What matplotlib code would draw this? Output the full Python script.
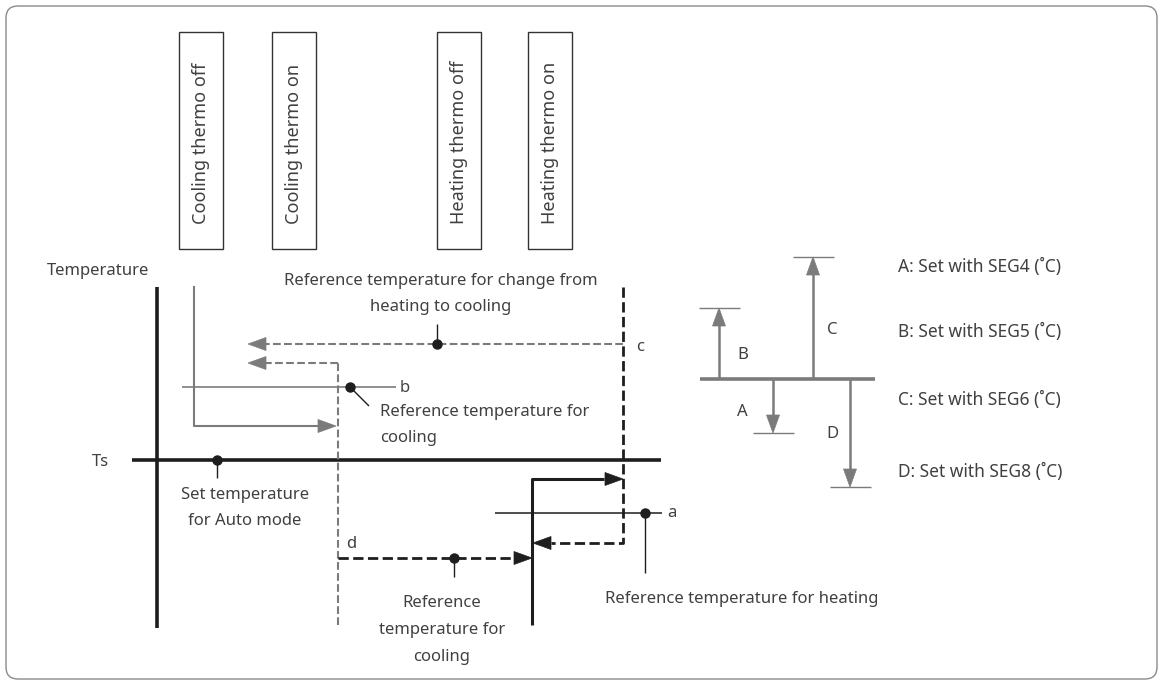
import matplotlib
matplotlib.use("Agg")
import matplotlib.pyplot as plt
from matplotlib.patches import FancyBboxPatch, Rectangle, Polygon

# ---- text content ----
state_labels = ["Cooling thermo off", "Cooling thermo on", "Heating thermo off", "Heating thermo on"]
axis_label = "Temperature"
ts_label = "Ts"
point_labels = ["a", "b", "c", "d"]
note_change = "Reference temperature for change from\nheating to cooling"
note_cool_b = "Reference temperature for\ncooling"
note_cool_d = "Reference\ntemperature for\ncooling"
note_heat = "Reference temperature for heating"
note_set = "Set temperature\nfor Auto mode"
offset_names = ["A", "B", "C", "D"]
offset_legend = ["A: Set with SEG4 (˚C)", "B: Set with SEG5 (˚C)",
                 "C: Set with SEG6 (˚C)", "D: Set with SEG8 (˚C)"]

GRAY = "#7b7b7b"
BLACK = "#1e1e1e"
TXT = "#404040"
FONT = ["Noto Sans", "DejaVu Sans"]
FS = 12

fig = plt.figure(figsize=(11.63, 6.85), dpi=100)
ax = fig.add_axes([0, 0, 1, 1])
ax.set_xlim(0, 1163)
ax.set_ylim(685, 0)
ax.axis("off")

# outer rounded frame
ax.add_patch(FancyBboxPatch((6, 6), 1151, 673, boxstyle="round,pad=0,rounding_size=12",
                            fill=False, ec="#8a8a8a", lw=1.0))


def txt(x, y, s, ha="left", va="center", fs=FS, **kw):
    ax.text(x, y, s, ha=ha, va=va, fontsize=fs, color=TXT, family=FONT,
            linespacing=1.9, **kw)


def head(x, y, direction, color, L=18, W=6.5):
    dx, dy = {"left": (1, 0), "right": (-1, 0), "up": (0, 1), "down": (0, -1)}[direction]
    bx, by = x + dx * L, y + dy * L
    px, py = -dy * W, dx * W
    ax.add_patch(Polygon([(x, y), (bx + px, by + py), (bx - px, by - py)],
                         closed=True, fc=color, ec=color, lw=0.5, zorder=5))


def line(xs, ys, color, lw, ls="-"):
    ax.plot(xs, ys, color=color, lw=lw, ls=ls, solid_capstyle="butt",
            dash_capstyle="butt", zorder=3)


def dot(x, y):
    ax.plot([x], [y], "o", color=BLACK, ms=6.5, zorder=6)

# ---- state boxes ----
box_x = [179, 272, 437, 528]
for bx, lab in zip(box_x, state_labels):
    ax.add_patch(Rectangle((bx, 32), 44, 217, fill=False, ec="#333333", lw=1.0))
    ax.text(bx + 22, 224, lab, rotation=90, ha="center", va="bottom",
            fontsize=13, color=TXT, family=FONT)

# ---- main axes ----
line([157, 157], [287, 628], BLACK, 2.6)
line([132, 661], [460, 460], BLACK, 2.6)
txt(47, 271, axis_label)
txt(92, 462, ts_label)
dot(217, 460)
line([217, 217], [460, 478], BLACK, 1.0)
txt(245, 508, note_set, ha="center")

# cooling (gray solid) path
line([194, 194, 318], [286, 426, 426], GRAY, 1.5)
head(336, 426, "right", GRAY)
# b line
line([182, 396], [387, 387], GRAY, 1.2)
txt(400, 388, point_labels[1])
dot(350, 387)
line([350, 369], [387, 406], BLACK, 1.0)
txt(380, 425, note_cool_b)

# gray dashed d-path
line([338, 338], [625, 363], GRAY, 1.5, "--")
line([338, 266], [363, 363], GRAY, 1.5, "--")
head(248, 363, "left", GRAY)
# gray dashed c-path
line([623, 266], [344, 344], GRAY, 1.5, "--")
head(248, 344, "left", GRAY)
dot(437, 344)
line([437, 437], [344, 324], BLACK, 1.0)
txt(441, 294, note_change, ha="center")
txt(636, 347, point_labels[2])

# black dashed c-path
line([623, 623, 551], [287, 543, 543], BLACK, 2.0, "--")
head(533, 543, "left", BLACK)

# heating (black solid) path
line([532, 532, 604], [625, 479, 479], BLACK, 2.2)
head(623, 479, "right", BLACK)

# a line
line([495, 662], [513, 513], BLACK, 1.1)
txt(667, 513, point_labels[0])
dot(645, 513)
line([645, 645], [513, 573], BLACK, 1.0)
txt(605, 599, note_heat)

# black dashed d
line([338, 514], [558, 558], BLACK, 2.0, "--")
head(532, 558, "right", BLACK)
dot(454, 558)
line([454, 454], [558, 577], BLACK, 1.0)
txt(346, 544, point_labels[3])
txt(442, 630, note_cool_d, ha="center")

# ---- offsets diagram ----
base_y = 379
line([700, 875], [base_y, base_y], GRAY, 2.6)
# (x, end_y, label x, label y)
arrows = {"A": (773, 433, 737, 412), "B": (719, 308, 737, 355),
          "C": (813, 257, 827, 330), "D": (850, 487, 826, 434)}
for name in offset_names:
    x, ye, lx, ly = arrows[name]
    d = "up" if ye < base_y else "down"
    sgn = 1 if d == "up" else -1
    line([x, x], [base_y, ye + sgn * 16], GRAY, 1.8)
    head(x, ye, d, GRAY)
    line([x - 20, x + 21], [ye, ye], GRAY, 1.0)
    txt(lx, ly, name, ha="left")

for i, s in enumerate(offset_legend):
    txt(898, [267, 332, 400, 472][i], s, fs=12.5)

fig.savefig("out.png", dpi=100)
